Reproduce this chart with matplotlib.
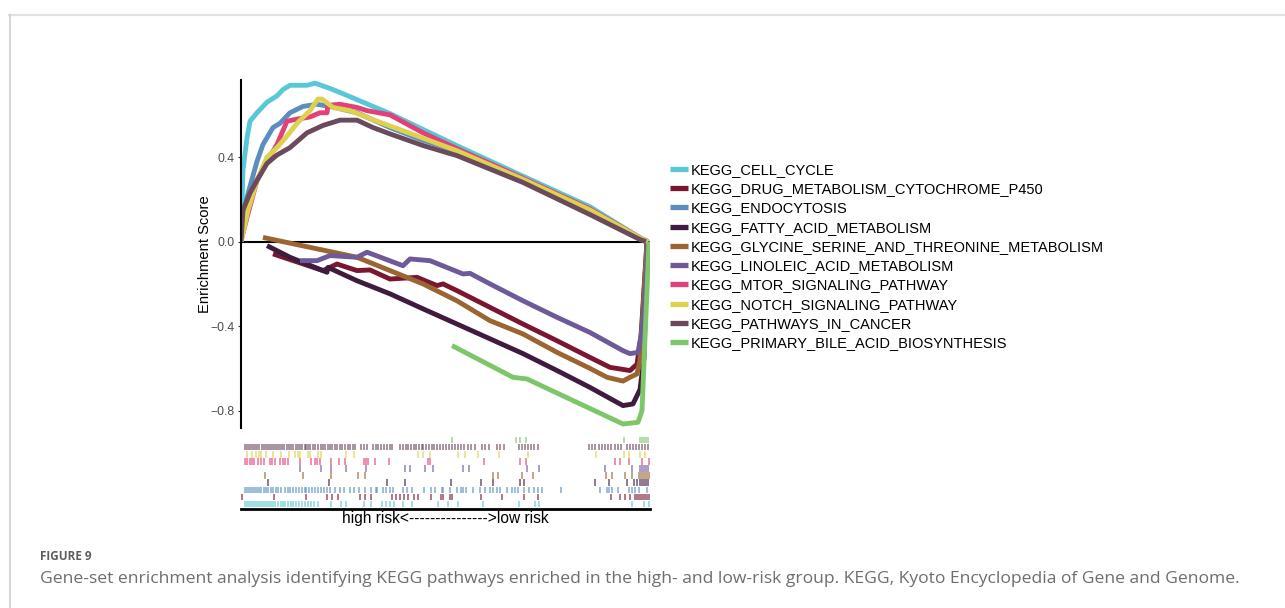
import matplotlib
matplotlib.use("Agg")
import matplotlib.pyplot as plt
from matplotlib.lines import Line2D

plt.rcParams['font.family'] = ['Liberation Sans', 'DejaVu Sans']

# =============================================
# DONNEES (x = rang du gene, 0..409)
# =============================================
pathways = ["KEGG_CELL_CYCLE", "KEGG_DRUG_METABOLISM_CYTOCHROME_P450",
            "KEGG_ENDOCYTOSIS", "KEGG_FATTY_ACID_METABOLISM",
            "KEGG_GLYCINE_SERINE_AND_THREONINE_METABOLISM",
            "KEGG_LINOLEIC_ACID_METABOLISM", "KEGG_MTOR_SIGNALING_PATHWAY",
            "KEGG_NOTCH_SIGNALING_PATHWAY", "KEGG_PATHWAYS_IN_CANCER",
            "KEGG_PRIMARY_BILE_ACID_BIOSYNTHESIS"]
colors = ["#58C8D8", "#7B1632", "#5B8DBF", "#3F1B40", "#9A6532",
          "#6E5A98", "#E2407A", "#DCD24E", "#6B4A5E", "#7DC76A"]

cc_x = [0, 1, 2, 6, 9, 16, 26, 36, 42, 49, 66, 74, 89, 102, 149, 216, 282, 349, 402, 407]
cc_y = [0, 0.18, 0.34, 0.49, 0.57, 0.61, 0.66, 0.69, 0.72, 0.74, 0.74, 0.75, 0.725, 0.70,
        0.606, 0.454, 0.31, 0.165, 0.01, 0.0]

drug_x = [32, 82, 96, 116, 129, 149, 176, 196, 202, 216, 249, 282, 316, 349, 369, 389, 396, 400, 406]
drug_y = [-0.058, -0.137, -0.106, -0.137, -0.134, -0.177, -0.169, -0.208, -0.20, -0.232,
          -0.311, -0.39, -0.469, -0.548, -0.595, -0.61, -0.58, -0.45, 0.0]

endo_x = [0, 1, 6, 16, 22, 32, 39, 49, 62, 76, 89, 116, 149, 182, 216, 282, 349, 400, 407]
endo_y = [0, 0.07, 0.21, 0.38, 0.46, 0.54, 0.56, 0.61, 0.64, 0.65, 0.64, 0.61, 0.54, 0.48,
          0.43, 0.29, 0.145, 0.015, 0.0]

fatty_x = [26, 49, 86, 87, 116, 149, 182, 216, 249, 282, 316, 349, 382, 392, 399, 403, 406]
fatty_y = [-0.019, -0.074, -0.145, -0.122, -0.185, -0.247, -0.318, -0.39, -0.46, -0.53,
           -0.61, -0.69, -0.776, -0.768, -0.70, -0.55, 0.0]

gly_x = [22, 116, 149, 182, 216, 249, 282, 316, 349, 366, 382, 389, 396, 399, 406]
gly_y = [0.02, -0.074, -0.137, -0.2, -0.28, -0.374, -0.437, -0.524, -0.60, -0.642, -0.66,
         -0.642, -0.626, -0.563, 0.0]

lino_x = [59, 76, 89, 116, 126, 162, 169, 189, 222, 229, 249, 282, 316, 349, 382, 389, 397,
          401, 404, 407]
lino_y = [-0.09, -0.09, -0.066, -0.074, -0.05, -0.114, -0.082, -0.09, -0.153, -0.15, -0.20,
          -0.28, -0.358, -0.43, -0.516, -0.53, -0.524, -0.42, -0.26, 0.0]

mtor_x = [0, 2, 6, 16, 26, 36, 46, 56, 69, 79, 86, 87, 99, 116, 126, 149, 182, 216, 282, 349,
          400, 407]
mtor_y = [0, 0.04, 0.115, 0.29, 0.38, 0.46, 0.57, 0.58, 0.59, 0.61, 0.61, 0.645, 0.65, 0.635,
          0.62, 0.60, 0.515, 0.44, 0.30, 0.155, 0.015, 0.0]

notch_x = [0, 2, 7, 16, 26, 36, 46, 56, 69, 77, 81, 92, 109, 136, 182, 216, 282, 349, 400, 407]
notch_y = [0, 0.04, 0.15, 0.29, 0.40, 0.445, 0.50, 0.56, 0.62, 0.675, 0.675, 0.635, 0.62, 0.57,
           0.49, 0.43, 0.295, 0.15, 0.015, 0]

cancer_x = [0, 2, 9, 16, 26, 36, 49, 66, 82, 99, 116, 132, 149, 182, 216, 282, 349, 399, 405]
cancer_y = [0, 0.15, 0.23, 0.29, 0.37, 0.41, 0.445, 0.515, 0.55, 0.575, 0.575, 0.54, 0.51,
            0.455, 0.407, 0.28, 0.128, 0.01, 0.0]

bile_x = [211, 272, 286, 382, 397, 401, 408]
bile_y = [-0.492, -0.642, -0.65, -0.863, -0.855, -0.80, 0.0]

# positions des genes du set (rug)
hits_cc = [4, 6, 8, 10, 12, 14, 16, 18, 20, 22, 24, 26, 28, 30, 32, 34, 37, 40, 42, 44, 47, 50,
           52, 55, 58, 61, 64, 67, 70, 73, 77, 90, 100, 105, 123, 130, 141, 145, 149, 153, 162,
           171, 197, 207, 217, 242, 278, 294, 298, 391, 403, 408]
hits_drug = [1, 33, 65, 86, 91, 97, 119, 124, 130, 151, 155, 159, 163, 167, 173, 177, 190, 200,
             202, 209, 211, 240, 261, 283, 297, 370, 379, 384, 389, 394, 396, 398, 400, 402,
             404, 406, 408]
hits_endo = [4, 6, 8, 10, 12, 14, 16, 18, 20, 23, 25, 27, 30, 32, 35, 37, 40, 44, 47, 49, 52,
             55, 58, 61, 64, 65, 68, 71, 74, 77, 80, 83, 86, 89, 94, 99, 103, 109, 113, 118,
             124, 130, 135, 136, 142, 145, 149, 152, 162, 166, 171, 183, 190, 194, 201, 202,
             209, 216, 220, 222, 225, 232, 239, 244, 249, 252, 256, 259, 266, 271, 274, 277,
             283, 288, 293, 297, 301, 320, 359, 366, 368, 371, 377, 388, 391, 394, 398, 406]
hits_fatty = [27, 88, 146, 164, 210, 240, 252, 279, 283, 354, 368, 386, 393, 396, 399, 401,
              403, 405, 407]
hits_gly = [24, 62, 90, 117, 124, 252, 257, 281, 292, 365, 371, 384, 391, 398, 400, 402, 404,
            406, 408]
hits_lino = [59, 80, 90, 105, 125, 164, 169, 184, 192, 222, 228, 286, 298, 364, 391, 399, 401,
             403, 405, 407]
hits_mtor = [4, 6, 9, 11, 13, 17, 20, 23, 29, 31, 34, 39, 42, 44, 47, 59, 70, 74, 76, 79, 90,
             98, 104, 123, 125, 127, 134, 148, 187, 189, 243, 279, 285, 374, 379, 388, 401, 408]
hits_notch = [6, 11, 15, 18, 20, 25, 32, 40, 48, 54, 57, 59, 67, 69, 77, 80, 105, 113, 177,
              182, 189, 217, 224, 237, 258, 287, 355, 383, 388, 399, 404]
hits_cancer = [4, 6, 8, 10, 12, 14, 16, 18, 21, 23, 25, 27, 29, 31, 33, 35, 37, 39, 41, 43, 46,
               48, 50, 52, 55, 57, 59, 61, 64, 65, 67, 69, 72, 74, 77, 80, 82, 84, 87, 89, 91,
               94, 96, 99, 101, 104, 107, 109, 112, 114, 120, 123, 126, 132, 135, 137, 140, 143,
               146, 149, 151, 159, 162, 165, 167, 170, 173, 175, 178, 181, 182, 185, 188, 191,
               193, 196, 199, 202, 205, 208, 211, 214, 217, 220, 223, 227, 230, 234, 241, 244,
               248, 256, 259, 263, 278, 281, 284, 287, 290, 293, 297, 348, 351, 354, 358, 361,
               364, 367, 370, 374, 377, 380, 386, 389, 392, 395, 398, 401, 404, 407]
hits_bile = [211, 275, 279, 285, 383, 399, 401, 403, 405, 407]

curves_x = [cc_x, drug_x, endo_x, fatty_x, gly_x, lino_x, mtor_x, notch_x, cancer_x, bile_x]
curves_y = [cc_y, drug_y, endo_y, fatty_y, gly_y, lino_y, mtor_y, notch_y, cancer_y, bile_y]
hits = [hits_cc, hits_drug, hits_endo, hits_fatty, hits_gly, hits_lino, hits_mtor,
        hits_notch, hits_cancer, hits_bile]

# =============================================
# FIGURE
# =============================================
W, H = 1285, 608
fig = plt.figure(figsize=(W / 100, H / 100), dpi=100)
fig.patch.set_facecolor("white")

def fx(px):
    return px / W

def fy(py):
    return 1 - py / H

# cadre gris de la page
fig.add_artist(Line2D([fx(9), 1], [fy(15), fy(15)], color="#e2e2e2", lw=1.6))
fig.add_artist(Line2D([fx(9.5), fx(9.5)], [fy(15), 0], color="#cfcfcf", lw=1.2))

# ── Courbes ES ──────────────────────────────
ax = fig.add_axes([fx(241), fy(428), fx(650) - fx(241), fy(80) - fy(428)])
for xs, ys, col in zip(curves_x, curves_y, colors):
    ax.plot(xs, ys, color=col, lw=3.5, solid_joinstyle="round", solid_capstyle="butt")
ax.axhline(0, color="black", lw=1.5, zorder=0)
ax.set_xlim(0, 409)
ax.set_ylim(-0.882, 0.765)
for s in ["top", "right", "bottom"]:
    ax.spines[s].set_visible(False)
ax.spines["left"].set_linewidth(1.5)
ax.set_xticks([])
ax.set_yticks([0.4, 0.0, -0.4, -0.8])
ax.set_yticklabels(["0.4", "0.0", "\u22120.4", "\u22120.8"])
ax.tick_params(axis="y", length=2.5, width=0.8, color="#333333", labelcolor="#4d4d4d",
               labelsize=8.8, pad=2)
ax.patch.set_alpha(0)

fig.text(fx(205), fy(254), "Enrichment Score", rotation=90, ha="center", va="center",
         fontsize=10.6, color="black")

# ── Rug ─────────────────────────────────────
rug = fig.add_axes([fx(241), fy(509), fx(650) - fx(241), fy(437) - fy(509)])
n = len(hits)
for i, (h, col) in enumerate(zip(hits, colors)):
    rug.vlines(h, i + 0.08, i + 0.95, color=col, lw=1.1, alpha=0.75)
rug.set_xlim(0, 409)
rug.set_ylim(-0.25, n)
rug.set_xticks([])
rug.set_yticks([])
for s in ["top", "right", "left"]:
    rug.spines[s].set_visible(False)
rug.spines["bottom"].set_linewidth(2.0)

fig.text(fx(445), fy(519), "high risk<--------------->low risk", ha="center", va="center",
         fontsize=11.2, color="black")

# ── Legende ─────────────────────────────────
handles = [Line2D([0], [0], color=c, lw=3.8, solid_capstyle="butt") for c in colors]
fig.legend(handles, pathways, loc="upper left", bbox_to_anchor=(fx(670), fy(163)),
           frameon=False, fontsize=10.5, handlelength=1.25, handletextpad=0.2,
           labelspacing=0.36, borderpad=0, borderaxespad=0)

# ── Legende de figure ───────────────────────
fig.text(fx(40), fy(556), "FIGURE 9", ha="left", va="center", fontsize=8.5,
         fontweight="bold", color="#5e5e5e", family=["Open Sans", "DejaVu Sans"])
fig.text(fx(40), fy(579),
         "Gene-set enrichment analysis identifying KEGG pathways enriched in the high- and "
         "low-risk group. KEGG, Kyoto Encyclopedia of Gene and Genome.",
         ha="left", va="center", fontsize=12.6, color="#6e6e6e",
         family=["Open Sans", "DejaVu Sans"])

plt.savefig("out.png", dpi=100, facecolor="white")
plt.close()
